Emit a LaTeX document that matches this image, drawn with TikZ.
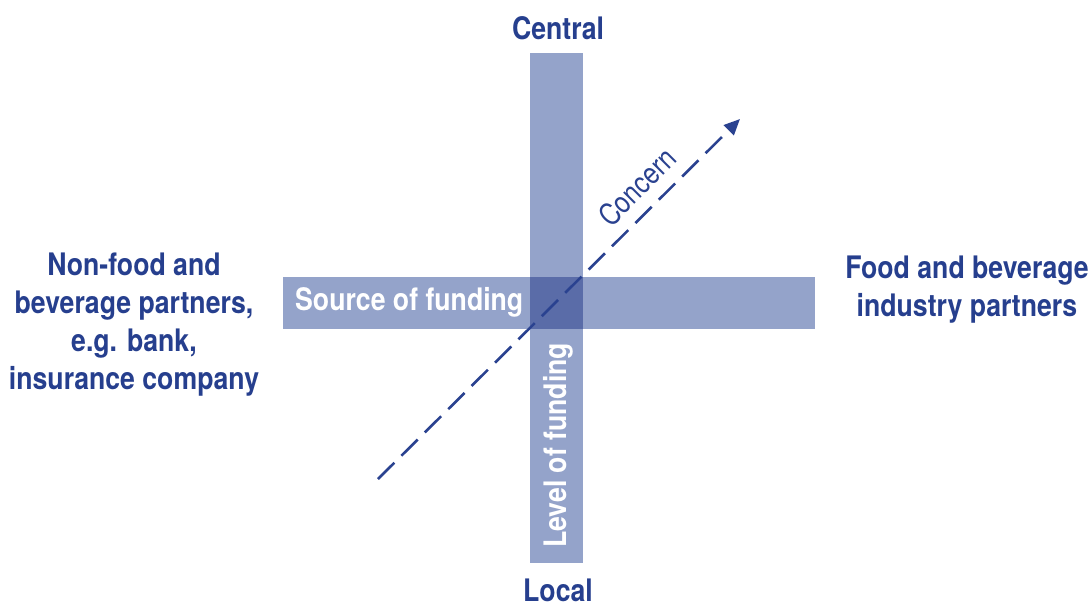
\documentclass[tikz,border=0pt]{standalone}
\usepackage{fontspec}
\setmainfont{TeX Gyre Heros}[FakeStretch=0.86]
\newfontfamily\lightcond{TeX Gyre Heros}[FakeStretch=0.84]
\usetikzlibrary{arrows.meta}
\definecolor{barblue}{HTML}{94A3CA}
\definecolor{overlapblue}{HTML}{5A6CA8}
\definecolor{textblue}{HTML}{263F8E}
\definecolor{arrowblue}{HTML}{2A4290}
\tikzset{
  lbl/.style={text=textblue, font=\bfseries\fontsize{31}{38}\selectfont, align=center, inner sep=0pt},
  barlbl/.style={text=white, font=\bfseries\fontsize{31}{34}\selectfont, inner sep=0pt},
}
\begin{document}
\begin{tikzpicture}[x=1pt,y=-1pt]
\useasboundingbox (0,0) rectangle (1092,606);
% bars
\fill[barblue] (530,53) rectangle (583,563);
\fill[barblue] (283,277) rectangle (815,329);
\fill[overlapblue] (530,277) rectangle (583,329);
\node[barlbl, anchor=west] (src) at (295,302) {Source of funding};
\node[barlbl, anchor=west, rotate=90] (lvl) at (558,548) {Level of funding};
% labels
\node[lbl] (central) at (558,28) {Central};
\node[lbl] (local) at (558,590) {Local};
\node[lbl] (left) at (134,325) {Non-food and\\beverage partners,\\e.g. bank,\\insurance company};
\node[lbl] (right) at (967,290) {Food and beverage\\industry partners};
% arrow
\coordinate (a0) at (378,479);
\coordinate (a1) at (740,119);
\draw[arrowblue, line width=2.6pt, dash pattern=on 23pt off 10pt, -{Triangle[length=16pt,width=14pt]}] (a0) -- (a1);
\node[text=arrowblue, font=\lightcond\fontsize{30}{34}\selectfont, rotate=45, inner sep=0pt] (concern) at (637,187) {Concern};
\end{tikzpicture}
\end{document}
